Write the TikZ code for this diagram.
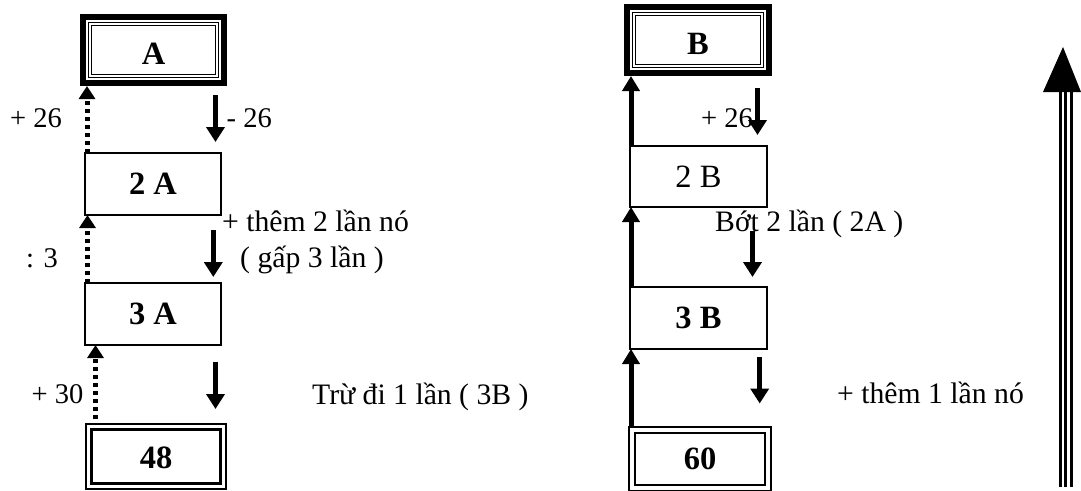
\documentclass[tikz,border=0pt]{standalone}
\usepackage{fontspec}
\setmainfont{Liberation Serif}
\usetikzlibrary{arrows.meta}
\tikzset{
  box/.style={draw, line width=1.5pt, outer sep=0pt, inner sep=0pt,
    font=\fontsize{32.5}{36}\selectfont\bfseries},
  boxreg/.style={box, font=\fontsize{32.5}{36}\selectfont},
  framebox/.style={box, line width=6pt, text height=29pt},
  lbl/.style={inner sep=0pt, anchor=base west, font=\fontsize{29.7}{33}\selectfont},
  lblsmall/.style={lbl, font=\fontsize{28.5}{32}\selectfont},
  downarrow/.style={line width=5.5pt, -{Triangle[width=18pt,length=15pt]}},
  uparrow/.style={line width=5pt, -{Triangle[width=17pt,length=15pt]}},
  dotarrow/.style={line width=5pt, dash pattern=on 4.5pt off 3.5pt,
    -{Triangle[width=16pt,length=13pt]}},
  innerdouble/.style={line width=1pt, double, double distance=2pt},
  innerthick/.style={line width=2.8pt},
}
\begin{document}
\begin{tikzpicture}[x=1pt,y=-1pt]
\useasboundingbox (0,0) rectangle (1081,490);

% ---- left column: A ----
\node[framebox, minimum width=141pt, minimum height=66pt] (A) at (153.5,50) {A};
\draw[innerdouble] ([xshift=7pt,yshift=-7pt]A.north west) rectangle ([xshift=-7pt,yshift=7pt]A.south east);
\node[box, minimum width=136pt, minimum height=62pt] (A2) at (153,184) {2 A};
\node[box, minimum width=136pt, minimum height=62pt] (A3) at (153,314) {3 A};
\node[box, minimum width=140pt, minimum height=65pt, text height=25pt] (N48) at (156,456.5) {48};
\draw[innerthick] ([xshift=5.5pt,yshift=-5.5pt]N48.north west) rectangle ([xshift=-5.5pt,yshift=5.5pt]N48.south east);

\draw[dotarrow] ([xshift=2pt]A2.north west) -- ([xshift=4pt,yshift=-3pt]A.south west);
\draw[dotarrow] ([xshift=2.5pt]A3.north west) -- ([xshift=2.5pt]A2.south west);
\draw[dotarrow] ([xshift=9.5pt,yshift=5pt]N48.north west) -- ([xshift=10.5pt]A3.south west);

\draw[downarrow] ([xshift=-8.5pt,yshift=-12pt]A.south east) -- ([xshift=-5.5pt,yshift=11pt]A2.north east);
\draw[downarrow] ([xshift=-7.7pt,yshift=-15pt]A2.south east) -- ([xshift=-7.7pt,yshift=6pt]A3.north east);
\draw[downarrow] ([xshift=-5.5pt,yshift=-17pt]A3.south east) -- ([xshift=-10.5pt,yshift=15pt]N48.north east);

\node[lblsmall] (lp26) at (10,127) {+ 26};
\node[lblsmall] (lm26) at (226.5,127) {- 26};
\node[lblsmall] (ldiv) at (26,267) {: 3};
\node[lbl] (lthem2) at (222,231) {+ thêm 2 lần nó};
\node[lbl] (lgap) at (240,267) {( gấp 3 lần )};
\node[lblsmall] (lp30) at (31.5,403) {+ 30};
\node[lbl] (ltru) at (312,404) {Trừ đi 1 lần ( 3B )};

% ---- right column: B ----
\node[framebox, minimum width=142pt, minimum height=66pt] (B) at (698,40) {B};
\draw[innerdouble] ([xshift=7pt,yshift=-7pt]B.north west) rectangle ([xshift=-7pt,yshift=7pt]B.south east);
\node[boxreg, minimum width=137pt, minimum height=61pt] (B2) at (698.5,176.5) {2 B};
\node[box, minimum width=137pt, minimum height=62pt] (B3) at (698.5,318) {3 B};
\node[box, minimum width=142pt, minimum height=64pt] (N60) at (700,459) {60};
\draw[innerthick] ([xshift=6pt,yshift=-6pt]N60.north west) rectangle ([xshift=-6pt,yshift=6pt]N60.south east);

\draw[uparrow] ([xshift=1pt]B2.north west) -- ([xshift=4pt,yshift=-3pt]B.south west);
\draw[uparrow] ([xshift=1pt]B3.north west) -- ([xshift=1pt]B2.south west);
\draw[uparrow] ([xshift=2pt]N60.north west) -- ([xshift=1pt]B3.south west);

\draw[downarrow] ([xshift=-11.5pt,yshift=-15pt]B.south east) -- ([xshift=-9.5pt,yshift=11pt]B2.north east);
\draw[downarrow] ([xshift=-14.5pt,yshift=-24pt]B2.south east) -- ([xshift=-14.5pt,yshift=10pt]B3.north east);
\draw[downarrow] ([xshift=-7.3pt,yshift=-8pt]B3.south east) -- ([xshift=-11.3pt,yshift=23.5pt]N60.north east);

\node[lblsmall] (rp26) at (701,127) {+ 26};
\node[lbl] (lbot) at (715,231) {Bớt 2 lần ( 2A )};
\node[lbl] (lthem1) at (837,403) {+ thêm 1 lần nó};

% ---- triple-shaft arrow on the far right ----
\coordinate (bigtip) at (1063,47);
\coordinate (bigl) at (1043,92);
\coordinate (bigr) at (1081,92);
\fill (bigl) -- (bigtip) -- (bigr) -- cycle;
\draw[line width=3pt] (1060,90) -- (1060,487);
\draw[line width=2.5pt] (1065.5,90) -- (1065.5,487);
\draw[line width=3pt] (1071,90) -- (1071,487);
\end{tikzpicture}
\end{document}
